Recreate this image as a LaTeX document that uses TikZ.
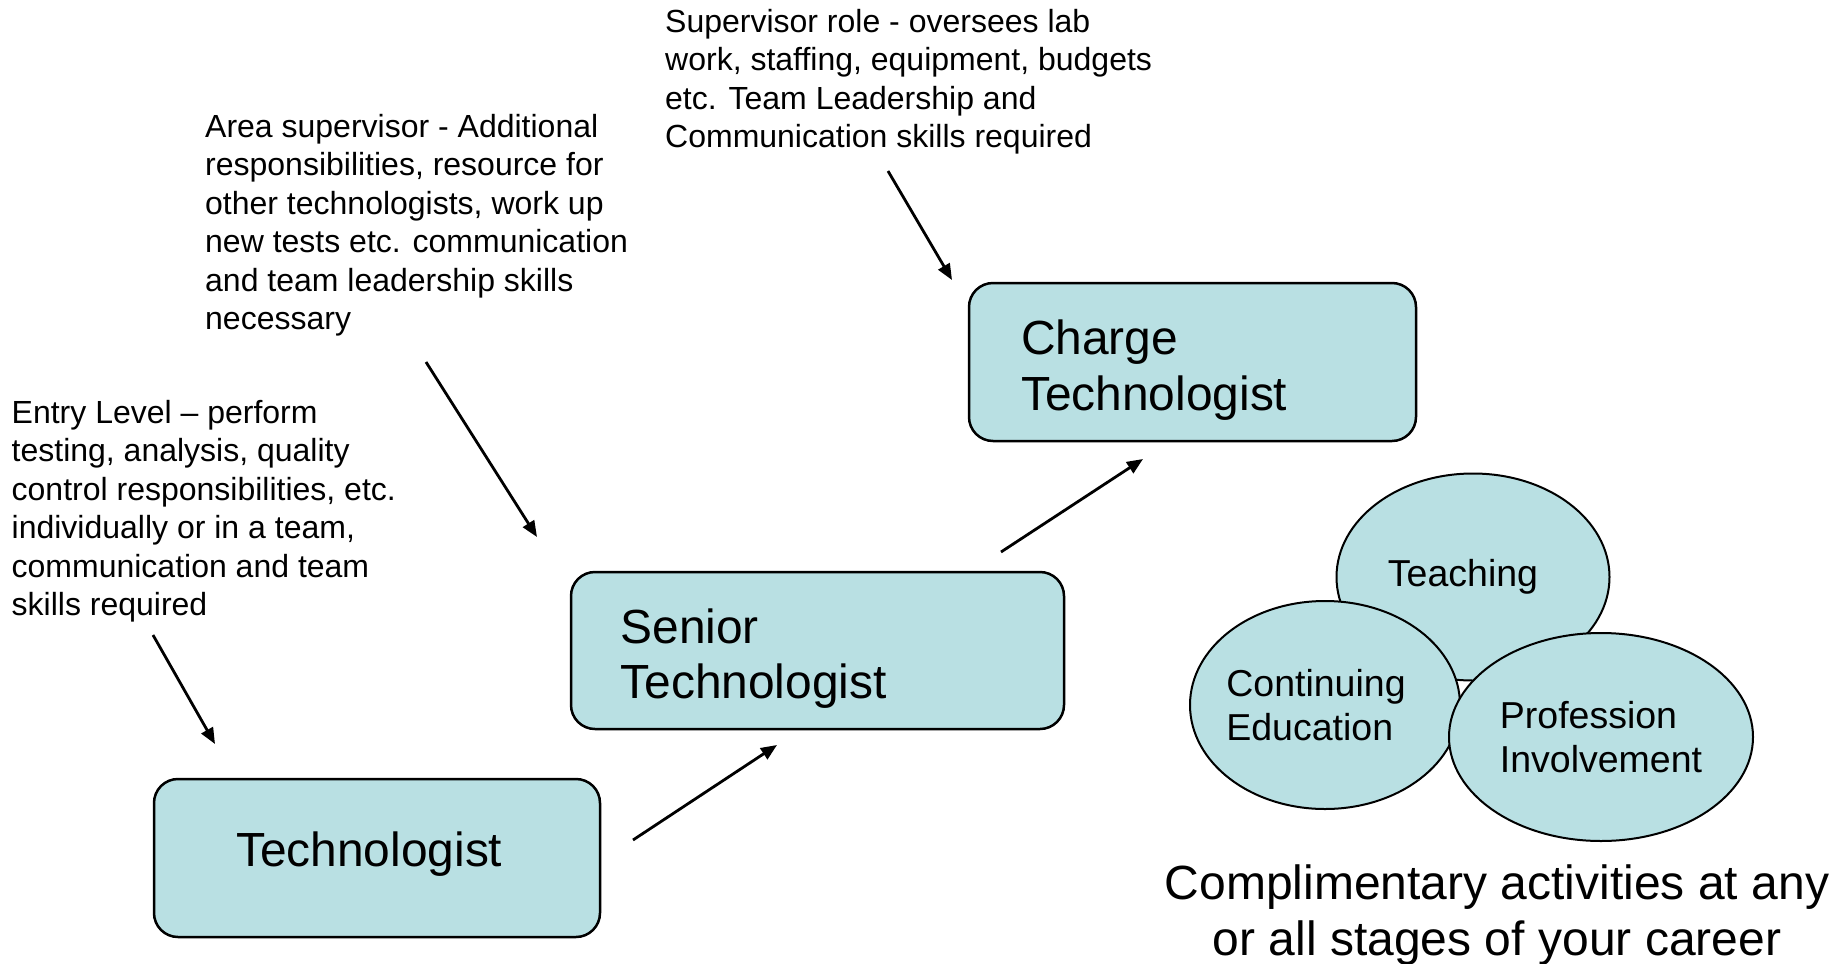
\documentclass[tikz,border=0pt]{standalone}
\usepackage{fontspec}
\setmainfont{Liberation Sans}
\usetikzlibrary{shapes.geometric,arrows.meta}
\definecolor{boxfill}{RGB}{185,224,227}
\newcommand{\boxstrut}{\rule{0pt}{51pt}}
\begin{document}
\begin{tikzpicture}[x=1pt,y=-1pt,
  box/.style={draw=black, line width=2.5pt, fill=boxfill, rounded corners=24pt,
    inner ysep=0pt, inner xsep=0pt, align=left,
    font=\fontsize{47.9}{55.5}\selectfont},
  desc/.style={anchor=north west, inner sep=0pt, align=left,
    font=\fontsize{32}{38.5}\selectfont},
  circ/.style={ellipse, draw=black, line width=2pt, fill=boxfill, inner sep=0pt,
    align=left, font=\fontsize{37.5}{44.7}\selectfont},
  arr/.style={line width=2.8pt, -{Triangle[length=16pt,width=13pt]}}]

\useasboundingbox (0,0) rectangle (1845,964);

% boxes
\node[box, minimum width=446pt, minimum height=158pt, text width=282pt] (tech) at (377,858) {Technologist\rule[-17pt]{0pt}{17pt}};
\node[box, minimum width=493pt, minimum height=157pt, text width=394pt] (senior) at (817.5,650.5) {\boxstrut Senior\\Technologist};
\node[box, minimum width=447pt, minimum height=158pt, text width=343pt] (charge) at (1192.5,362) {\boxstrut Charge\\Technologist};

% descriptions
\node[desc] (entry) at (11.5,400) {Entry Level – perform\\testing, analysis, quality\\control responsibilities, etc.\\individually or in a team,\\communication and team\\skills required};
\node[desc] (area) at (205,114) {Area supervisor - Additional\\responsibilities, resource for\\other technologists, work up\\new tests etc. communication\\and team leadership skills\\necessary};
\node[desc] (sup) at (665,9) {Supervisor role - oversees lab\\work, staffing, equipment, budgets\\etc. Team Leadership and\\Communication skills required};

% arrow end points
\coordinate (entryS) at (153,635);
\coordinate (entryT) at (215,744);
\coordinate (areaS) at (426,362);
\coordinate (areaT) at (537,537);
\coordinate (supS) at (888,171);
\coordinate (supT) at (952,280);
\coordinate (up1S) at (633,840);
\coordinate (up1T) at (777,745);
\coordinate (up2S) at (1001,552);
\coordinate (up2T) at (1143,459);

\draw[arr] (entryS) -- (entryT);
\draw[arr] (areaS) -- (areaT);
\draw[arr] (supS) -- (supT);
\draw[arr] (up1S) -- (up1T);
\draw[arr] (up2S) -- (up2T);

% activities
\node[circ, minimum width=273pt, minimum height=207pt] (teach) at (1473,577) {Teaching\hspace*{20pt}};
\node[circ, minimum width=270pt, minimum height=208pt] (cont) at (1325,705) {\hspace*{-18pt}Continuing\\\hspace*{-18pt}Education};
\node[circ, minimum width=304pt, minimum height=208pt] (prof) at (1601,737) {Profession\\Involvement};

\node[anchor=north, align=center, inner sep=0pt, font=\fontsize{48}{55.5}\selectfont] (caption) at (1497,865)
  {Complimentary activities at any\\or all stages of your career};
\end{tikzpicture}
\end{document}
